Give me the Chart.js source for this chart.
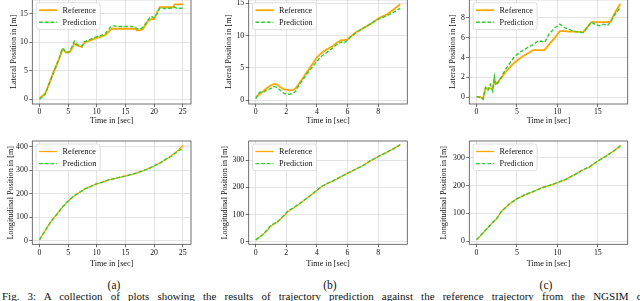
<!DOCTYPE html>
<html><head><meta charset="utf-8">
<script src="https://cdn.jsdelivr.net/npm/chart.js@4/dist/chart.umd.min.js"></script>
<style>
html,body{margin:0;padding:0;background:#fff;overflow:hidden;width:640px;height:301px;position:relative;}
canvas{position:absolute;}
.cap{position:absolute;font-family:"Liberation Serif",serif;color:#111;white-space:nowrap;line-height:1;}
.sub{font-size:11.5px;transform:translate(-50%,-50%);}
</style></head><body>
<canvas id="c0"></canvas><canvas id="c1"></canvas><canvas id="c2"></canvas>
<canvas id="c3"></canvas><canvas id="c4"></canvas><canvas id="c5"></canvas>
<div class="cap sub" style="left:114px;top:286px">(a)</div>
<div class="cap sub" style="left:330px;top:286px">(b)</div>
<div class="cap sub" style="left:546px;top:286px">(c)</div>
<div class="cap" id="fig" style="left:2px;top:291px;font-size:11px;word-spacing:5.4px">Fig. 3: A collection of plots showing the results of trajectory prediction against the reference trajectory from the NGSIM dataset.</div>
<script>
// ---------- data ----------
const seriesNames = ['Reference', 'Prediction'];
const timeTitle = 'Time in [sec]';
const latTitle = 'Lateral Position in [m]';
const lonTitle = 'Longitudinal Position in [m]';

// (a) lateral
const timeLatA = [0,0.5,1,1.5,2,2.5,3,3.5,4,4.3,4.6,5,5.3,5.7,6.1,6.5,7,7.4,7.8,8.5,9,10,11,11.5,12,12.6,13,14,15,16,16.7,17,17.5,18,18.5,19,19.5,20,20.5,21,21.5,22,22.5,23,23.3,23.6,24,24.5,25,25.1];
const refLatA  = [0.2,0.6,1.0,2.3,3.6,4.9,6.1,7.3,8.7,8.6,8.2,8.2,8.3,9.0,9.8,9.5,9.3,9.2,9.9,10.2,10.4,10.8,11.1,11.3,11.8,12.4,12.4,12.4,12.4,12.4,12.4,12.1,12.1,12.3,13.0,13.8,14.1,14.1,15.2,16.2,16.2,16.2,16.2,16.2,16.2,16.7,16.7,16.7,16.7,16.7];
const predLatA = [0.0,0.4,0.9,2.2,3.5,4.8,6.0,7.4,9.0,8.7,8.3,8.3,8.5,9.3,10.2,9.7,9.4,9.3,10.1,10.4,10.6,11.0,11.3,11.6,12.2,12.9,12.9,12.8,12.8,12.8,12.7,12.4,12.3,12.6,13.3,14.0,14.6,14.3,15.0,16.0,16.0,15.9,16.0,16.0,16.0,16.2,16.0,16.0,16.0,16.0];
// (b) lateral
const timeLatB = [0,0.25,0.5,0.75,1.0,1.2,1.4,1.6,1.8,2.0,2.2,2.4,2.6,2.8,3.0,3.3,3.6,4.0,4.3,4.6,5.0,5.3,5.6,5.8,6.0,6.3,6.6,7.0,7.5,8.0,8.3,8.6,9.0,9.2,9.45];
const refLatB  = [0.4,0.9,1.4,1.9,2.3,2.5,2.4,2.0,1.7,1.6,1.5,1.5,1.8,2.4,3.1,4.2,5.2,6.6,7.3,7.8,8.3,8.9,9.3,9.3,9.4,10.0,10.6,11.1,11.8,12.6,13.0,13.3,14.0,14.4,14.85];
const predLatB = [0.2,1.2,1.2,1.6,1.8,2.1,1.9,1.5,1.1,0.9,0.9,1.0,1.3,2.2,2.9,3.9,4.8,6.0,6.8,7.3,8.0,8.6,9.0,8.9,9.3,10.0,10.5,11.1,11.8,12.5,12.8,13.1,13.6,13.9,14.2];
// (c) lateral
const timeLatC = [0,0.4,0.8,1.1,1.4,1.7,2.0,2.2,2.4,2.7,3.1,3.5,4.0,4.7,5.5,6.3,7.0,7.5,8.0,8.4,9.0,9.7,10.3,10.9,11.5,12.2,13.2,13.7,14.2,14.7,15.2,15.7,16.2,16.6,17.0,17.4,17.8];
const refLatC  = [0.05,0.05,-0.15,0.9,0.9,0.9,0.85,1.8,1.4,1.6,2.0,2.45,2.9,3.5,4.0,4.4,4.75,4.75,4.75,4.75,5.35,6.0,6.65,6.65,6.6,6.6,6.55,7.05,7.55,7.55,7.55,7.55,7.55,7.6,8.3,8.9,9.4];
const predLatC = [0.1,0.0,-0.2,1.0,0.7,1.3,0.6,2.1,1.2,1.5,2.1,2.7,3.3,4.1,4.6,5.0,5.3,5.6,5.65,5.5,6.4,7.0,7.35,7.0,6.8,6.6,6.5,7.0,7.55,7.3,7.2,7.35,7.2,7.6,8.2,8.6,9.05];
// (a) longitudinal
const timeLonA = [0,1,2,3,4,5,6,7,8,9,10,11,12,13,14,15,16,17,18,19,20,21,22,23,24,25.1];
const refLonA  = [5,45,82,113,143,170,190,207,221,233,242,250,258,265,270,276,282,289,297,307,318,331,345,362,381,405];
const predLonA = [5,44,83,112,144,169,191,206,222,232,243,249,259,264,271,275,283,288,298,306,319,330,346,360,378,394];
// (b) longitudinal
const timeLonB = [0,0.5,0.8,1.0,1.5,1.9,2.1,2.5,3,3.5,4,4.3,4.7,5,5.5,6,6.5,7,7.5,8,8.5,9,9.45];
const refLonB  = [6,28,45,58,76,98,110,125,145,167,188,203,214,222,236,252,265,280,297,313,326,342,357];
const predLonB = [7,27,48,60,77,100,113,126,146,166,189,202,215,221,237,251,266,279,298,312,327,341,356];
// (c) longitudinal
const timeLonC = [0,1,2,2.5,3,4,5,6,7,8,9,10,11,12,13,14,15,16,17,17.8];
const refLonC  = [4,35,68,80,105,132,153,167,178,192,200,210,222,238,254,268,288,307,325,346];
const predLonC = [5,36,67,82,104,133,152,168,179,191,201,211,223,237,255,269,289,306,326,343];

// tick labels
const timeTicksA = [0,5,10,15,20,25];
const timeTicksB = [0,2,4,6,8];
const timeTicksC = [0,5,10,15];
const latTicksA = [0,5,10,15];
const latTicksB = [0,5,10,15];
const latTicksC = [0,2,4,6,8];
const lonTicksA = [0,100,200,300,400];
const lonTicksB = [0,100,200,300];
const lonTicksC = [0,100,200,300];

// ---------- layout (pixels) ----------
const panels = [
 {id:'c0',cx:0,  cy:-3, cw:200,ch:130,fl:32.3, fr:191,  ft:-0.3,fb:104,  ttl:13.6,  t:timeLatA,r:refLatA,p:predLatA,xr:[-1.25,26.45],yr:[-0.826,17.51],xt:timeTicksA,yt:latTicksA,yl:latTitle,top:true},
 {id:'c1',cx:212,cy:-3, cw:205,ch:130,fl:248.7,fr:407.3,ft:-0.3,fb:104,  ttl:229,   t:timeLatB,r:refLatB,p:predLatB,xr:[-0.46,9.91],yr:[-0.62,15.56],xt:timeTicksB,yt:latTicksB,yl:latTitle,top:true},
 {id:'c2',cx:430,cy:-3, cw:210,ch:130,fl:469.3,fr:627.7,ft:-0.3,fb:104,  ttl:453.3, t:timeLatC,r:refLatC,p:predLatC,xr:[-0.9,18.7],yr:[-0.673,9.81],xt:timeTicksC,yt:latTicksC,yl:latTitle,top:true},
 {id:'c3',cx:0,  cy:132,cw:200,ch:138,fl:32.3, fr:191,  ft:141, fb:244.3,ttl:11,    t:timeLonA,r:refLonA,p:predLonA,xr:[-1.25,26.45],yr:[-14,424.2],xt:timeTicksA,yt:lonTicksA,yl:lonTitle,top:false},
 {id:'c4',cx:212,cy:132,cw:205,ch:138,fl:248.7,fr:407.3,ft:141, fb:244.3,ttl:225,   t:timeLonB,r:refLonB,p:predLonB,xr:[-0.46,9.91],yr:[-9.5,369.8],xt:timeTicksB,yt:lonTicksB,yl:lonTitle,top:false},
 {id:'c5',cx:430,cy:132,cw:210,ch:138,fl:469.3,fr:627.7,ft:141, fb:244.3,ttl:444,   t:timeLonC,r:refLonC,p:predLonC,xr:[-0.9,18.7],yr:[-11.9,361.4],xt:timeTicksC,yt:lonTicksC,yl:lonTitle,top:false}
];

const FONT = '"Liberation Serif", "Times New Roman", serif';
const TITLE_SIZE = 8.2, TICK_SIZE = 7.8;

const frameLegend = {
  id:'frameLegend',
  afterDatasetsDraw(chart){
    const {ctx, chartArea:a} = chart;
    ctx.save();
    ctx.strokeStyle = '#4d4d4d'; ctx.lineWidth = 0.8; ctx.setLineDash([]);
    ctx.strokeRect(a.left, a.top, a.right-a.left, a.bottom-a.top);
    const x0 = a.left + 3.8, y0 = a.top + 3, w = 64, h = 26.7;
    ctx.fillStyle = 'rgba(255,255,255,0.85)'; ctx.strokeStyle = '#d6d6d6'; ctx.lineWidth = 0.8;
    ctx.beginPath(); ctx.roundRect(x0, y0, w, h, 2.5); ctx.fill(); ctx.stroke();
    chart.data.datasets.forEach((ds, i) => {
      const y = y0 + 7.5 + i*12.1;
      ctx.strokeStyle = ds.borderColor; ctx.lineWidth = ds.borderWidth; ctx.setLineDash(ds.borderDash || []);
      ctx.beginPath(); ctx.moveTo(x0+3, y); ctx.lineTo(x0+21, y); ctx.stroke();
      ctx.setLineDash([]);
      ctx.fillStyle = '#111'; ctx.font = TITLE_SIZE + 'px ' + FONT;
      ctx.textBaseline = 'middle'; ctx.textAlign = 'left';
      ctx.fillText(ds.label, x0+26.5, y+0.5);
    });
    ctx.restore();
  }
};

panels.forEach(P => {
  const cv = document.getElementById(P.id);
  cv.width = P.cw; cv.height = P.ch;
  cv.style.left = P.cx + 'px'; cv.style.top = P.cy + 'px';
  cv.style.width = P.cw + 'px'; cv.style.height = P.ch + 'px';
  const lh = TITLE_SIZE * 1.2;
  const padLeft = P.ttl - P.cx - lh/2;
  const padTop = P.ft - P.cy;
  const padRight = P.cx + P.cw - P.fr;
  const xTitleY = P.top ? 120.5 : 264;
  const padBottom = (P.cy + P.ch) - xTitleY - lh/2;
  const yWidth = P.fl - P.cx - padLeft;
  const xHeight = (P.cy + P.ch) - P.fb - padBottom;
  const refData = P.t.map((t,i)=>({x:t, y:P.r[i]}));
  const predData = P.t.map((t,i)=>({x:t, y:P.p[i]}));
  new Chart(cv, {
    type:'line',
    data:{datasets:[
      {label:seriesNames[0], data:refData, borderColor:'#FFA500', borderWidth:P.top?1.8:1.3, pointRadius:0, tension:0, fill:false, order:2},
      {label:seriesNames[1], data:predData, borderColor:'#32CD32', borderWidth:1.4, borderDash:[3.8,1.9], pointRadius:0, tension:0, fill:false, order:1}
    ]},
    options:{
      responsive:false, animation:false, devicePixelRatio:1,
      layout:{padding:{left:padLeft, top:padTop, right:padRight, bottom:padBottom}},
      plugins:{legend:{display:false}, tooltip:{enabled:false}},
      scales:{
        x:{type:'linear', min:P.xr[0], max:P.xr[1],
           afterBuildTicks:s=>{s.ticks = P.xt.map(v=>({value:v}));},
           afterFit:s=>{s.height = xHeight; s.paddingLeft=0; s.paddingRight=0;},
           grid:{color:'#dcdcdc', lineWidth:0.8, drawTicks:true, tickLength:3, tickColor:'#4d4d4d', tickWidth:0.8},
           border:{display:false},
           ticks:{autoSkip:false, maxRotation:0, padding:0.5, color:'#111', font:{family:FONT, size:TICK_SIZE}},
           title:{display:true, text:timeTitle, color:'#111', padding:0, font:{family:FONT, size:TITLE_SIZE}}
        },
        y:{type:'linear', min:P.yr[0], max:P.yr[1],
           afterBuildTicks:s=>{s.ticks = P.yt.map(v=>({value:v}));},
           afterFit:s=>{s.width = yWidth; s.paddingTop=0; s.paddingBottom=0;},
           grid:{color:'#dcdcdc', lineWidth:0.8, drawTicks:true, tickLength:3, tickColor:'#4d4d4d', tickWidth:0.8},
           border:{display:false},
           ticks:{autoSkip:false, padding:1.5, color:'#111', font:{family:FONT, size:TICK_SIZE}},
           title:{display:true, text:P.yl, color:'#111', padding:0, font:{family:FONT, size:TITLE_SIZE}}
        }
      }
    },
    plugins:[frameLegend]
  });
});
</script>
</body></html>
